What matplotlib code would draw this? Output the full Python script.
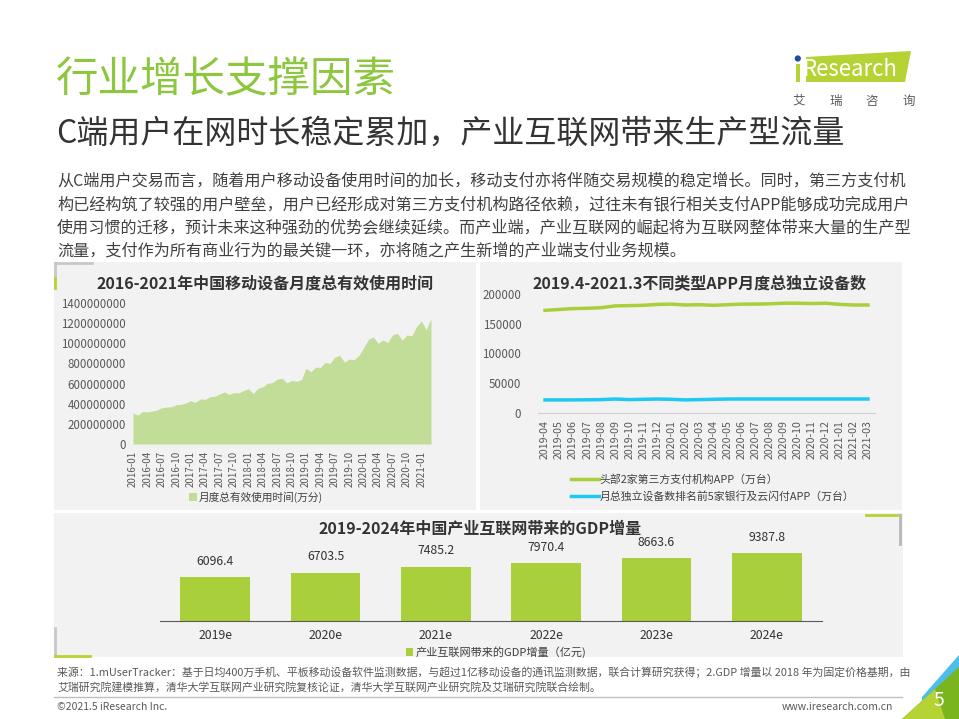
import matplotlib
matplotlib.use("Agg")
import matplotlib.pyplot as plt
from matplotlib.patches import Rectangle, Polygon

plt.rcParams['font.family'] = ['Noto Sans CJK SC', 'DejaVu Sans']

W, H = 959, 719

# ---- data ----
usage_months = [f"{y}-{m:02d}" for y in range(2016, 2022) for m in range(1, 13)][:63]
usage_values = [3.07, 2.87, 3.23, 3.17, 3.27, 3.37, 3.60, 3.67, 3.70, 3.90, 3.93, 4.07,
                4.30, 4.13, 4.47, 4.43, 4.70, 4.73, 4.97, 5.17, 4.93, 5.10, 5.07, 5.30,
                5.50, 5.00, 5.53, 5.67, 6.03, 6.10, 6.43, 6.53, 6.07, 6.30, 6.23, 6.37,
                7.53, 7.17, 7.63, 7.60, 8.10, 8.00, 8.63, 8.80, 8.13, 8.43, 8.37, 8.80,
                9.57, 10.40, 10.63, 10.00, 10.33, 10.07, 10.83, 11.00, 10.30, 10.83, 10.73, 11.67,
                12.20, 11.33, 12.47]
usage_values = [v * 1e8 for v in usage_values]
usage_ticks = list(range(0, 63, 3))
usage_yticks = [0, 200000000, 400000000, 600000000, 800000000, 1000000000, 1200000000, 1400000000]

app_months = ["2019-04", "2019-05", "2019-06", "2019-07", "2019-08", "2019-09", "2019-10", "2019-11",
              "2019-12", "2020-01", "2020-02", "2020-03", "2020-04", "2020-05", "2020-06", "2020-07",
              "2020-08", "2020-09", "2020-10", "2020-11", "2020-12", "2021-01", "2021-02", "2021-03"]
third_party = [172500, 174000, 175500, 176000, 177000, 180000, 180500, 181000, 182500, 183000, 181500, 182000,
               181000, 182000, 183000, 183000, 183500, 184500, 184500, 184000, 184500, 182500, 181500, 181500]
banks = [22000, 22000, 22000, 22200, 22500, 23500, 22500, 23000, 23500, 23000, 22000, 22500,
         23000, 23500, 23500, 23500, 23500, 23500, 23500, 23500, 23500, 23500, 23500, 23500]
app_yticks = [0, 50000, 100000, 150000, 200000]

gdp_years = ["2019e", "2020e", "2021e", "2022e", "2023e", "2024e"]
gdp_values = [6096.4, 6703.5, 7485.2, 7970.4, 8663.6, 9387.8]

body_lines = [
    "从C端用户交易而言，随着用户移动设备使用时间的加长，移动支付亦将伴随交易规模的稳定增长。同时，第三方支付机",
    "构已经构筑了较强的用户壁垒，用户已经形成对第三方支付机构路径依赖，过往未有银行相关支付APP能够成功完成用户",
    "使用习惯的迁移，预计未来这种强劲的优势会继续延续。而产业端，产业互联网的崛起将为互联网整体带来大量的生产型",
    "流量，支付作为所有商业行为的最关键一环，亦将随之产生新增的产业端支付业务规模。",
]
note_lines = [
    "来源：1.mUserTracker：基于日均400万手机、平板移动设备软件监测数据，与超过1亿移动设备的通讯监测数据，联合计算研究获得；2.GDP 增量以 2018 年为固定价格基期，由",
    "艾瑞研究院建模推算，清华大学互联网产业研究院复核论证，清华大学互联网产业研究院及艾瑞研究院联合绘制。",
]
logo_chars = ["艾", "瑞", "咨", "询"]

GREEN = "#8dc63f"
BAR = "#a9d03a"
AREA = "#c2dd97"
CYAN = "#1ec8f2"
TXT = "#404040"
TICK = "#595959"


def px_axes(fig, left, top, right, bottom):
    return fig.add_axes([left / W, 1 - bottom / H, (right - left) / W, (bottom - top) / H])


def fig_xy(x, y):
    return (x / W, 1 - y / H)


fig = plt.figure(figsize=(W / 100, H / 100), dpi=100)
fig.patch.set_facecolor("white")

bg = fig.add_axes([0, 0, 1, 1])
bg.set_xlim(0, W)
bg.set_ylim(H, 0)
bg.axis("off")

# panels
bg.add_patch(Rectangle((54, 262), 422, 248, color="#f2f2f2", lw=0))
bg.add_patch(Rectangle((480, 262), 422, 248, color="#f2f2f2", lw=0))
bg.add_patch(Rectangle((54, 513), 849, 144, color="#f2f2f2", lw=0))
# corner brackets
bg.plot([55, 92], [263, 263], color="#c8c8c8", lw=2)
bg.plot([55, 55], [263, 278], color="#c8c8c8", lw=2)
bg.plot([55, 55], [278, 288], color="#b5d334", lw=2)
bg.plot([866, 900], [515, 515], color="#b5d334", lw=2)
bg.plot([900, 900], [515, 544], color="#b8b8b8", lw=2)
bg.plot([55, 55], [628, 656], color="#c8c8c8", lw=2)
bg.plot([55, 90], [656, 656], color="#b5d334", lw=2)

# headline
bg.text(56, 80, "行业增长支撑因素", fontsize=30.6, color=GREEN, va="center", ha="left")
bg.text(56, 134, "C端用户在网时长稳定累加，产业互联网带来生产型流量", fontsize=23, color="#333333",
        va="center", ha="left")
for i, line in enumerate(body_lines):
    bg.text(57, 181 + i * 23.3, line, fontsize=11.6, color=TXT, va="center", ha="left")

# logo
bg.add_patch(Polygon([(806, 57), (911, 51), (905, 82), (806, 82)], closed=True, color="#b5d334", lw=0))
bg.add_patch(Rectangle((796, 64), 3.5, 18, color="#b5d334", lw=0))
bg.add_patch(plt.Circle((797.8, 58.5), 2.4, color="#1f4e9c"))
bg.text(803, 70, "Research", fontsize=16, color="white", va="center", ha="left")
for i, ch in enumerate(logo_chars):
    bg.text(799 + i * 36.5, 101, ch, fontsize=9, color="#595959", va="center", ha="center")

# footnotes
for i, line in enumerate(note_lines):
    bg.text(57, 672 + i * 15, line, fontsize=7.85, color=TICK, va="center", ha="left")
bg.plot([54, 902], [697, 697], color="#bfbfbf", lw=1)
bg.text(57, 707, "©2021.5 iResearch Inc.", fontsize=7.5, color=TICK, va="center", ha="left")
bg.text(893, 707, "www.iresearch.com.cn", fontsize=7.5, color=TICK, va="center", ha="right")

# page corner
bg.add_patch(Polygon([(922, 697), (959, 655), (959, 719), (922, 719)], closed=True, color="#4dbde9", lw=0))
bg.add_patch(Polygon([(902, 719), (959, 667), (959, 719)], closed=True, color="#7ab51d", lw=0))
bg.add_patch(Polygon([(902, 719), (935, 689), (945, 719)], closed=True, color="#b5d334", lw=0))
bg.text(939, 701, "5", fontsize=14, color="white", va="center", ha="center")

# ---- left chart: usage time ----
ax1 = px_axes(fig, 133, 303, 431, 444)
ax1.set_facecolor("none")
x1 = list(range(len(usage_values)))
ax1.fill_between(x1, usage_values, 0, color=AREA, lw=0, label="月度总有效使用时间(万分)")
ax1.set_xlim(0, len(usage_values) - 1)
ax1.set_ylim(0, 1.4e9)
ax1.set_yticks(usage_yticks)
ax1.set_yticklabels([str(v) for v in usage_yticks], fontsize=8.3, color=TICK)
ax1.set_xticks(usage_ticks)
ax1.set_xticklabels([usage_months[i] for i in usage_ticks], rotation=90, fontsize=7, color=TICK)
ax1.tick_params(length=0, pad=5)
for s in ax1.spines.values():
    s.set_visible(False)
ax1.legend(loc="center", bbox_to_anchor=fig_xy(256, 497), bbox_transform=fig.transFigure,
           frameon=False, fontsize=7.7, handlelength=0.7, handleheight=0.7, handletextpad=0.2,
           labelcolor=TXT)
bg.text(265, 283, "2016-2021年中国移动设备月度总有效使用时间", fontsize=11.5, fontweight="bold",
        color="#333333", va="center", ha="center")

# ---- right chart: app devices ----
ax2 = px_axes(fig, 538, 294, 875, 413)
ax2.set_facecolor("none")
x2 = list(range(len(app_months)))
ax2.plot(x2, third_party, color=BAR, lw=2.5, label="头部2家第三方支付机构APP（万台）")
ax2.plot(x2, banks, color=CYAN, lw=2.5, label="月总独立设备数排名前5家银行及云闪付APP（万台）")
ax2.set_xlim(-0.5, len(app_months) - 0.5)
ax2.set_ylim(0, 200000)
ax2.set_yticks(app_yticks)
ax2.set_yticklabels([str(v) for v in app_yticks], fontsize=8.3, color=TICK)
ax2.set_xticks(x2)
ax2.set_xticklabels(app_months, rotation=90, fontsize=7.6, color=TICK)
ax2.tick_params(length=0, pad=5)
ax2.tick_params(axis="y", pad=12)
for s in ax2.spines.values():
    s.set_visible(False)
ax2.spines["bottom"].set_visible(True)
ax2.spines["bottom"].set_color("#d0d0d0")
ax2.legend(loc="upper left", bbox_to_anchor=fig_xy(566, 469), bbox_transform=fig.transFigure,
           frameon=False, fontsize=7.8, handlelength=2.5, handletextpad=0.1, labelspacing=0.55,
           labelcolor=TXT, borderpad=0)
bg.text(700, 283, "2019.4-2021.3不同类型APP月度总独立设备数", fontsize=11.5, fontweight="bold",
        color="#333333", va="center", ha="center")

# ---- bottom chart: GDP ----
ax3 = px_axes(fig, 160, 527, 822, 621)
ax3.set_facecolor("none")
x3 = list(range(len(gdp_years)))
bars = ax3.bar(x3, gdp_values, width=0.63, color=BAR, label="产业互联网带来的GDP增量（亿元)")
for rect, v in zip(bars, gdp_values):
    ax3.text(rect.get_x() + rect.get_width() / 2, v + 1300, f"{v:.1f}", ha="center", va="bottom",
             fontsize=8.8, color="#333333")
ax3.set_xlim(-0.5, len(gdp_years) - 0.5)
ax3.set_ylim(0, 13000)
ax3.set_yticks([])
ax3.set_xticks(x3)
ax3.set_xticklabels(gdp_years, fontsize=8.8, color="#333333")
ax3.tick_params(length=0, pad=6)
for s in ax3.spines.values():
    s.set_visible(False)
ax3.spines["bottom"].set_visible(True)
ax3.spines["bottom"].set_color("#595959")
ax3.legend(loc="center", bbox_to_anchor=fig_xy(496, 652), bbox_transform=fig.transFigure,
           frameon=False, fontsize=8, handlelength=0.7, handleheight=0.7, handletextpad=0.2,
           labelcolor=TXT)
bg.text(480, 529, "2019-2024年中国产业互联网带来的GDP增量", fontsize=11.5, fontweight="bold",
        color="#333333", va="center", ha="center")

fig.savefig("out.png", dpi=100)
